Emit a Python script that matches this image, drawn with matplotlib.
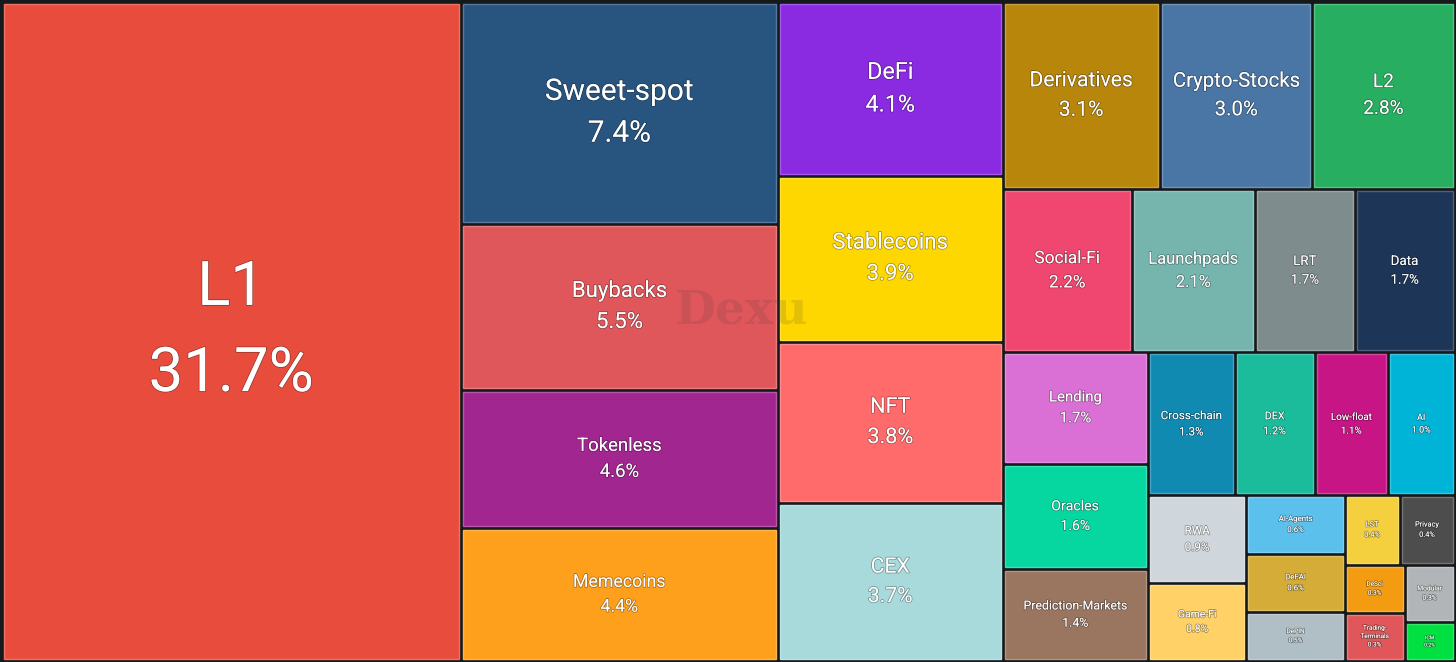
import matplotlib
matplotlib.use("Agg")
import matplotlib.pyplot as plt
import matplotlib.patheffects as pe
from matplotlib.patches import Rectangle
from matplotlib.colors import to_rgb

# sector share of market cap, in percent
names = ["L1", "Sweet-spot", "Buybacks", "Tokenless", "Memecoins",
         "DeFi", "Stablecoins", "NFT", "CEX",
         "Derivatives", "Crypto-Stocks", "L2",
         "Social-Fi", "Launchpads", "LRT", "Data",
         "Lending", "Oracles", "Prediction-Markets",
         "Cross-chain", "DEX", "Low-float", "AI",
         "RWA", "Game-Fi",
         "AI-Agents", "DeFAI", "DePIN",
         "LST", "Privacy", "DeSci", "Trading-\nTerminals", "Modular", "ICM"]
shares = [31.7, 7.4, 5.5, 4.6, 4.4,
          4.1, 3.9, 3.8, 3.7,
          3.1, 3.0, 2.8,
          2.2, 2.1, 1.7, 1.7,
          1.7, 1.6, 1.4,
          1.3, 1.2, 1.1, 1.0,
          0.9, 0.8,
          0.6, 0.6, 0.5,
          0.4, 0.4, 0.3, 0.3, 0.3, 0.2]
colors = ["#e74c3c", "#285580", "#e0575b", "#a12690", "#ffa01c",
          "#8a2be2", "#ffd700", "#ff6b6b", "#a8dadc",
          "#b8860b", "#4a76a5", "#27ae60",
          "#ef476f", "#76b5ae", "#7f8c8d", "#1d3557",
          "#da70d6", "#06d6a0", "#9a7661",
          "#118ab2", "#1abc9c", "#c71585", "#00b4d8",
          "#d0d7dc", "#ffd166",
          "#5bc0eb", "#d4ac37", "#b0bec5",
          "#f4d03f", "#4d4d4d", "#f39c12", "#e15759", "#b2b5b7", "#00e040"]

W, H = 1456, 662
BG = "#16191c"
FONT = "Roboto"
PHI = (1 + 5 ** 0.5) / 2


def squarify(values, x0, y0, x1, y1, ratio=PHI):
    # squarified treemap, golden-ratio variant
    n = len(values)
    rects = [None] * n
    value = float(sum(values))
    i0 = 0
    while i0 < n:
        dx, dy = x1 - x0, y1 - y0
        s = values[i0]
        mn = mx = s
        i1 = i0 + 1
        alpha = max(dy / dx, dx / dy) / (value * ratio)
        beta = s * s * alpha
        best = max(mx / beta, beta / mn)
        while i1 < n:
            v = values[i1]
            s2, mn2, mx2 = s + v, min(mn, v), max(mx, v)
            beta = s2 * s2 * alpha
            r = max(mx2 / beta, beta / mn2)
            if r > best:
                break
            best, s, mn, mx = r, s2, mn2, mx2
            i1 += 1
        if dx < dy:
            h = dy * s / value if i1 < n else dy
            x = x0
            for k in range(i0, i1):
                w = dx * values[k] / s
                rects[k] = (x, y0, w, h)
                x += w
            y0 += h
        else:
            w = dx * s / value if i1 < n else dx
            y = y0
            for k in range(i0, i1):
                h = dy * values[k] / s
                rects[k] = (x0, y, w, h)
                y += h
            x0 += w
        value -= s
        i0 = i1
    return rects


def lighter(c, f=0.22):
    r, g, b = to_rgb(c)
    return (r + (1 - r) * f, g + (1 - g) * f, b + (1 - b) * f)


fig = plt.figure(figsize=(W / 100, H / 100), dpi=100, facecolor=BG)
ax = fig.add_axes([0, 0, 1, 1])
ax.set_xlim(0, W)
ax.set_ylim(H, 0)
ax.axis("off")
ax.set_facecolor(BG)

rects = squarify(shares, 1.5, 1.5, W - 1.5, H - 1.5)
renderer = fig.canvas.get_renderer()
pad = 2.0
shadow = [pe.withStroke(linewidth=1.1, foreground=(0, 0, 0, 0.35))]

# faint watermark
ax.text(742, 310, "Dexu", fontsize=34, fontweight="bold", family="DejaVu Serif",
        color="#3a3a3a", alpha=0.14, ha="center", va="center", zorder=5)

for name, val, col, (x, y, w, h) in zip(names, shares, colors, rects):
    ax.add_patch(Rectangle((x + pad, y + pad), w - 2 * pad, h - 2 * pad,
                           facecolor=col, edgecolor=lighter(col), linewidth=1.0, zorder=2))
    lines = name.split("\n") + [f"{val:.1f}%"]
    em = 0.134 * min(w, h)
    # shrink to fit tile width
    widest = 0
    for ln in lines:
        t = ax.text(0, 0, ln, fontsize=10, family=FONT)
        widest = max(widest, t.get_window_extent(renderer).width)
        t.remove()
    px_per_em = widest / (10 * 100 / 72)
    em = min(em, 0.86 * (w - 2 * pad) / px_per_em)
    step = 1.4 * em if len(lines) == 2 else 1.3 * em
    cx, cy = x + w / 2, y + h / 2
    top = cy - step * (len(lines) - 1) / 2
    for i, ln in enumerate(lines):
        ax.text(cx, top + i * step, ln, fontsize=em * 72 / 100, family=FONT,
                color="white", ha="center", va="center", zorder=6,
                path_effects=shadow)

fig.savefig("out.png", dpi=100, facecolor=BG)
